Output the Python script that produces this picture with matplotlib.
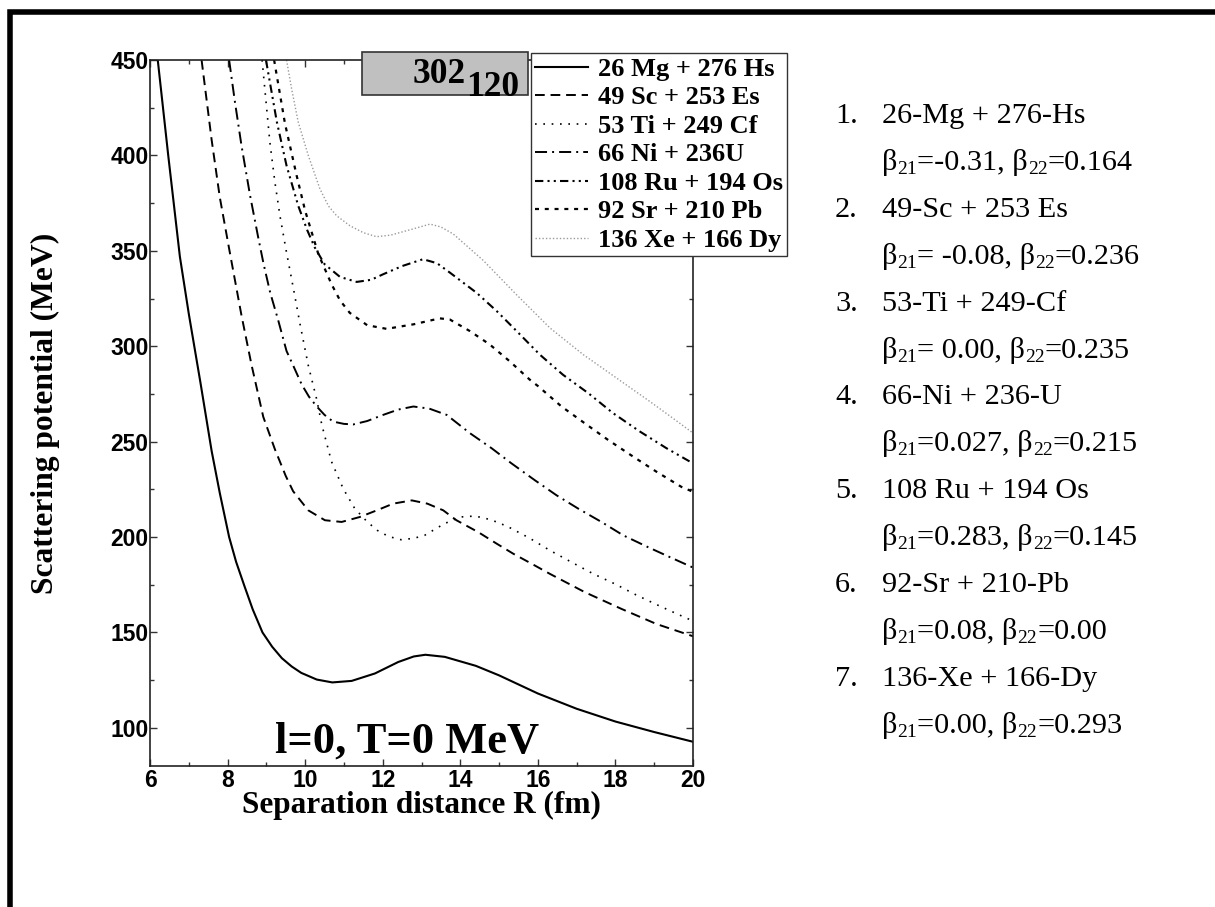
import matplotlib
matplotlib.use("Agg")
import matplotlib.pyplot as plt
from matplotlib.patches import Rectangle
from matplotlib.ticker import MultipleLocator

# ---------------- data ----------------
R_mg = [6.2, 6.47, 6.77, 7.0, 7.3, 7.59, 7.8, 8.04, 8.22, 8.44, 8.65, 8.9, 9.15, 9.4, 9.65, 9.9,
        10.3, 10.7, 11.2, 11.8, 12.4, 12.8, 13.1, 13.6, 14.4, 15.0, 16.0, 17.0, 18.0, 19.0, 20.0]
V_mg = [450, 400, 347, 317, 281, 245, 223, 200, 187, 174, 162, 150, 142.5, 136.5, 132.2, 128.8,
        125.3, 123.8, 124.6, 128.5, 134.5, 137.4, 138.3, 137.2, 132.5, 127.5, 118.0, 110.0,
        103.3, 97.8, 92.7]

R_sc = [7.33, 7.59, 7.8, 8.05, 8.36, 8.62, 8.92, 9.22, 9.5, 9.69, 10.08, 10.51, 10.94, 11.41,
        11.85, 12.27, 12.75, 13.15, 13.56, 13.9, 14.46, 14.94, 15.37, 15.84, 16.31, 17.21, 18.16,
        19.06, 20.0]
V_sc = [450, 408, 378, 350, 316, 290, 263, 246, 232, 224, 214, 208.8, 207.9, 210.5,
        214, 217.5, 219.2, 217.5, 214, 208.8, 202.6, 196.5, 191.2, 186, 180.7, 171.1, 162.3,
        154.4, 148]

R_ti = [8.89, 9.0, 9.09, 9.22, 9.35, 9.52, 9.7, 9.87, 10.08, 10.3, 10.43, 10.68, 10.98, 11.28,
        11.6, 11.86, 12.15, 12.47, 12.8, 13.08, 13.59, 14.0, 14.38, 14.68, 14.94, 15.24, 15.49,
        15.78, 16.04, 16.31, 16.87, 17.43, 17.99, 18.52, 19.06, 19.6, 20.0]
V_ti = [450, 426.3, 407, 386, 368.4, 349.1, 330, 311.4, 290, 272, 258.8, 239.5, 225.4, 214.9,
        208, 203.5, 200.3, 198.6, 199.3, 200.9, 207, 210.5, 211, 209.6, 207.9, 205.3, 202.6,
        199.5, 196.3, 193, 186.8, 180.7, 175.4, 169.8, 164.6, 159.6, 156]

R_ni = [8.04, 8.19, 8.36, 8.58, 8.79, 8.93, 9.1, 9.3, 9.52, 9.7, 9.91, 10.1, 10.3, 10.5, 10.72,
        11.0, 11.24, 11.6, 12.01, 12.4, 12.79, 13.2, 13.65, 14.25, 14.81, 15.32, 15.92, 16.48,
        17.04, 17.64, 18.2, 18.84, 19.4, 20.0]
V_ni = [450, 428, 405, 379, 357, 343, 328, 314, 297.5, 289.5, 280, 273.5, 268.4, 264, 260.5,
        259.3, 259, 260.8, 264, 266.8, 268.4, 267.3, 264, 254.4, 246.5, 238.6, 229.8, 221.9,
        214.9, 207.9, 200.9, 194.7, 189.5, 184]

R_ru = [8.99, 9.27, 9.52, 9.82, 10.05, 10.25, 10.5, 10.9, 11.33, 11.7, 12.01, 12.5, 13.04, 13.4,
        13.73, 14.42, 14.94, 15.45, 16.05, 16.65, 17.3, 17.94, 18.63, 19.32, 20.0]
V_ru = [450, 417.6, 394.7, 373.7, 361, 351.7, 343, 336.3, 333.7, 334.8, 337.7, 342, 345.6, 343.5,
        338.6, 328, 318.4, 308, 295.6, 285, 275.4, 264.9, 255.3, 246.5, 238.6]

R_sr = [9.2, 9.48, 9.78, 10.0, 10.34, 10.68, 10.9, 11.15, 11.6, 12.1, 12.8, 13.47, 13.73, 14.25,
        14.76, 15.28, 15.79, 16.01, 16.61, 17.21, 17.81, 18.46, 19.06, 19.7, 20.0]
V_sr = [450, 416.7, 389.5, 371, 348.3, 332.5, 324, 317.5, 311, 309.1, 311.5, 314.6, 314, 307.9,
        300.9, 292, 282.5, 279, 268.4, 259.6, 250.9, 242.1, 234.2, 226.3, 223.7]

R_xe = [9.52, 9.65, 9.82, 10.08, 10.38, 10.6, 10.81, 11.15, 11.5, 11.84, 12.2, 12.7, 13.22, 13.5,
        13.82, 14.2, 14.59, 15.02, 15.45, 16.31, 17.17, 18.03, 18.89, 19.5, 20.0]
V_xe = [450, 435, 417.6, 400, 382.5, 373.5, 368.4, 363.2, 359.5, 357.4, 358.2, 361, 364, 362.5,
        358.8, 352, 345, 336, 327, 309.6, 295.6, 283.3, 271, 262, 254.5]

labels = ["26 Mg + 276 Hs", "49 Sc + 253 Es", "53 Ti + 249 Cf", "66 Ni + 236U",
          "108 Ru + 194 Os", "92 Sr + 210 Pb", "136 Xe + 166 Dy"]

x_ticks = [6, 8, 10, 12, 14, 16, 18, 20]
y_ticks = [100, 150, 200, 250, 300, 350, 400, 450]

reactions = ["26-Mg + 276-Hs", "49-Sc + 253 Es", "53-Ti + 249-Cf", "66-Ni + 236-U",
             "108 Ru + 194 Os", "92-Sr + 210-Pb", "136-Xe + 166-Dy"]
beta21 = ["=-0.31", "= -0.08", "= 0.00", "=0.027", "=0.283", "=0.08", "=0.00"]
beta22 = ["=0.164", "=0.236", "=0.235", "=0.215", "=0.145", "=0.00", "=0.293"]

# ---------------- figure ----------------
W, H = 1215, 907
fig = plt.figure(figsize=(W / 100, H / 100), dpi=100)
fig.patch.set_facecolor('white')
renderer = fig.canvas.get_renderer()


def fx(px):
    return px / W


def fy(py):
    return 1 - py / H


ax = fig.add_axes([fx(150), fy(766), fx(693) - fx(150), fy(60) - fy(766)])

series = [
    (R_mg, V_mg, dict(color='black', lw=1.5, linestyle='-')),
    (R_sc, V_sc, dict(color='black', lw=1.4, linestyle=(0, (5, 3)))),
    (R_ti, V_ti, dict(color='black', lw=1.2, linestyle=(0, (1, 4)))),
    (R_ni, V_ni, dict(color='black', lw=1.4, linestyle=(0, (6.2, 2.6, 1, 2.6)))),
    (R_ru, V_ru, dict(color='black', lw=1.5, linestyle=(0, (4, 2, 1, 2, 1, 2)))),
    (R_sr, V_sr, dict(color='black', lw=1.6, linestyle=(0, (1.8, 2.6)))),
    (R_xe, V_xe, dict(color='#9a9a9a', lw=1.0, linestyle=(0, (1, 1.5)))),
]
handles = []
for (r, v, st), lab in zip(series, labels):
    h, = ax.plot(r, v, label=lab, solid_joinstyle='round', **st)
    handles.append(h)

ax.set_xlim(6, 20)
ax.set_ylim(80, 450)
ax.set_xticks(x_ticks)
ax.set_yticks(y_ticks)
ax.xaxis.set_minor_locator(MultipleLocator(1))
ax.yaxis.set_minor_locator(MultipleLocator(25))
ax.tick_params(which='both', direction='in', top=True, right=True, width=1, color='#333333')
ax.tick_params(which='major', length=5, pad=2)
ax.tick_params(which='minor', length=3)
ax.tick_params(axis='y', pad=1)
for lab in ax.get_xticklabels() + ax.get_yticklabels():
    lab.set_fontfamily('Liberation Sans')
    lab.set_fontweight('bold')
    lab.set_fontsize(16.5)
for s in ax.spines.values():
    s.set_linewidth(1.2)
    s.set_color('#222222')

# legend
leg = ax.legend(handles=handles, loc='upper left',
                bbox_to_anchor=(fx(531), fy(53)), bbox_transform=fig.transFigure,
                borderaxespad=0, frameon=True, fancybox=False, framealpha=1,
                edgecolor='#333333', handlelength=2.0, handletextpad=0.35,
                labelspacing=0.19, borderpad=0.17,
                prop={'family': 'Liberation Serif', 'weight': 'bold', 'size': 19})
leg.get_frame().set_linewidth(1.0)
leg.set_zorder(10)

# grey label box
fig.add_artist(Rectangle((fx(362), fy(95)), fx(528) - fx(362), fy(52) - fy(95),
                         transform=fig.transFigure, facecolor='#c0c0c0',
                         edgecolor='#333333', lw=1.2, zorder=5))
fig.text(fx(413), fy(83), "302", fontsize=25.5, fontweight='bold',
         family='Liberation Serif', ha='left', va='baseline', zorder=6)
fig.text(fx(466), fy(96), "120", fontsize=25.5, fontweight='bold',
         family='Liberation Serif', ha='left', va='baseline', zorder=6)

# axis labels
fig.text(fx(45), fy(413), "Scattering potential (MeV)", rotation=90, ha='center',
         va='center', fontsize=22.7, fontweight='bold', family='Liberation Serif')
fig.text(fx(421), fy(805), "Separation distance R (fm)", ha='center', va='center',
         fontsize=22.5, fontweight='bold', family='Liberation Serif')

# annotation inside the plot
fig.text(fx(407), fy(742), "l=0, T=0 MeV", ha='center', va='center',
         fontsize=32, fontweight='bold', family='Liberation Serif')


# right text block
def runs(x_px, base_py, parts):
    x = x_px
    for txt, size, dy in parts:
        t = fig.text(fx(x), fy(base_py + dy), txt, fontsize=size, ha='left',
                     va='baseline', family='Liberation Serif')
        x += t.get_window_extent(renderer).width


FS = 21.8
SUB = 14
base0 = 123
step = 46.9
for i in range(7):
    y1 = base0 + 2 * i * step
    y2 = y1 + step
    fig.text(fx(835), fy(y1), f"{i + 1}.", ha='left', va='baseline', fontsize=FS,
             family='Liberation Serif')
    fig.text(fx(882), fy(y1), reactions[i], ha='left', va='baseline', fontsize=FS,
             family='Liberation Serif')
    runs(882, y2, [("β", FS, 0), ("21", SUB, 4), (beta21[i] + ", β", FS, 0),
                   ("22", SUB, 4), (beta22[i], FS, 0)])

# outer thick border (right / bottom edges fall outside the picture)
fig.add_artist(Rectangle((fx(10), fy(925)), fx(1240) - fx(10), fy(12) - fy(925),
                         transform=fig.transFigure, facecolor='none',
                         edgecolor='black', lw=4, zorder=20, clip_on=False))

fig.savefig("out.png", dpi=100)
